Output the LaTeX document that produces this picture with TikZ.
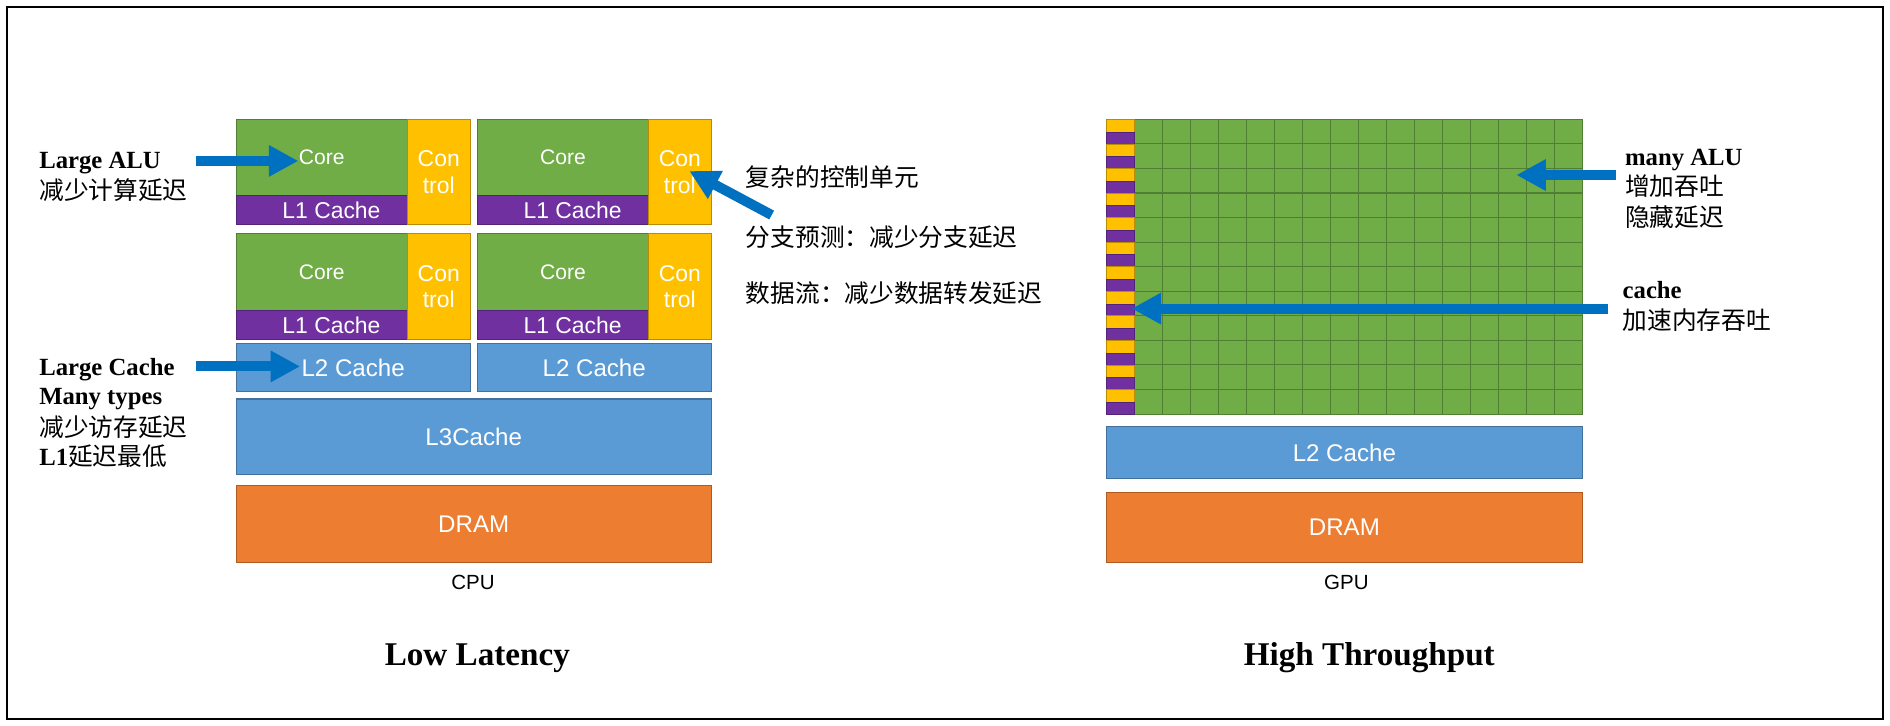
\documentclass[tikz,border=0pt]{standalone}
\usepackage{fontspec}
\setmainfont{Liberation Serif}
\newfontfamily\cjk{Noto Sans CJK SC}
\newfontfamily\arialf{Liberation Sans}
\usetikzlibrary{arrows.meta}
\definecolor{cgreen}{HTML}{70AD47}
\definecolor{cgreenb}{HTML}{507E32}
\definecolor{cyellow}{HTML}{FFC000}
\definecolor{cyellowb}{HTML}{BC8C00}
\definecolor{cpurple}{HTML}{7030A0}
\definecolor{cpurpleb}{HTML}{51237A}
\definecolor{cblue}{HTML}{5B9BD5}
\definecolor{cblueb}{HTML}{41719C}
\definecolor{corange}{HTML}{ED7D31}
\definecolor{corangeb}{HTML}{AE5A21}
\definecolor{carrow}{HTML}{0070C0}
\begin{document}
\begin{tikzpicture}[x=1pt,y=-1pt,
  box/.style={line width=0.9pt, inner sep=0pt, outer sep=0pt, text=white},
  corebox/.style={box, fill=cgreen, draw=cgreenb, minimum width=142pt, minimum height=63.5pt, font=\arialf\fontsize{17.5}{20}\selectfont},
  lonebox/.style={box, fill=cpurple, draw=cpurpleb, minimum width=142pt, minimum height=24pt, font=\arialf\fontsize{19}{22}\selectfont},
  ctrlbox/.style={box, fill=cyellow, draw=cyellowb, minimum width=52pt, minimum height=87.5pt, align=center, font=\arialf\fontsize{19}{22}\selectfont},
  cachebox/.style={box, fill=cblue, draw=cblueb, font=\arialf\fontsize{20}{24}\selectfont},
  drambox/.style={box, fill=corange, draw=corangeb, font=\arialf\fontsize{20}{24}\selectfont},
  note/.style={anchor=base west, inner sep=0pt, font=\fontsize{20.5}{25}\selectfont},
  cnote/.style={note, font=\cjk\fontsize{20.5}{25}\selectfont},
  arr/.style={draw=carrow, line width=8.3pt, -{Triangle[length=24.5pt,width=24.6pt]}},
  label/.style={inner sep=0pt, anchor=base, font=\arialf\fontsize{17}{20}\selectfont},
  title/.style={inner sep=0pt, anchor=base, font=\bfseries\fontsize{27.5}{30}\selectfont}
]
\useasboundingbox (0,0) rectangle (1568,602);
\draw[line width=1.7pt] (5.5,5.5) rectangle (1562,596.5);

% ---------------- CPU ----------------
\foreach \c in {0,1}{
  \foreach \r in {0,1}{
    \pgfmathsetmacro\L{196+200*\c}
    \pgfmathsetmacro\T{99+95*\r}
    \node[corebox] (core\c\r) at (\L+71,\T+31.75) {Core};
    \node[lonebox] (lone\c\r) at (\L+71,\T+75.5) {\hspace*{16pt}L1 Cache};
    \node[ctrlbox] (ctrl\c\r) at (\L+168,\T+43.75) {Con\\trol};
  }
}
\node[cachebox, minimum width=194pt, minimum height=40pt] (ltwoa) at (293,305) {L2 Cache};
\node[cachebox, minimum width=194pt, minimum height=40pt] (ltwob) at (493,305) {L2 Cache};
\node[cachebox, minimum width=394pt, minimum height=63pt] (lthree) at (393,362.5) {L3Cache};
\node[drambox, minimum width=394pt, minimum height=64pt] (dramc) at (393,435) {DRAM};
\node[label] (cpul) at (392.4,489) {CPU};
\node[title] (lowlat) at (396,552.4) {Low Latency};

% left notes
\node[note] (n1) at (32.4,139.8) {\textbf{Large ALU}};
\node[cnote] (n2) at (32.4,165.8) {减少计算延迟};
\node[note] (n3) at (32.4,311.5) {\textbf{Large Cache}};
\node[note] (n4) at (32.4,335.8) {\textbf{Many types}};
\node[cnote] (n5) at (32.4,361.8) {减少访存延迟};
\node[note] (n6) at (32.4,385.8) {\textbf{L1}{\cjk 延迟最低}};

% right notes
\node[cnote] (m1) at (618.6,154.4) {复杂的控制单元};
\node[cnote] (m2) at (618.6,204.1) {分支预测：减少分支延迟};
\node[cnote] (m3) at (618.6,251.2) {数据流：减少数据转发延迟};

\coordinate (a1s) at (163,133.5);
\coordinate (a1e) at (247.5,133.5);
\coordinate (a2s) at (163,304);
\coordinate (a2e) at (249,304);
\coordinate (a3s) at (640.2,178.4);
\coordinate (a3e) at (571.9,141.9);
\draw[arr] (a1s) -- (a1e);
\draw[arr] (a2s) -- (a2e);
\draw[arr] (a3s) -- (a3e);

% ---------------- GPU ----------------
\node[box, fill=cgreen, draw=cgreenb, minimum width=372pt, minimum height=244.5pt] (alu) at (1127,221.25) {};
\foreach \k in {1,...,15}{
  \draw[cgreenb, line width=0.9pt] (941+23.25*\k,99) -- (941+23.25*\k,343.5);
}
\foreach \k in {1,...,11}{
  \draw[cgreenb, line width=0.9pt] (941,99+20.375*\k) -- (1313,99+20.375*\k);
}
\foreach \k in {0,...,11}{
  \filldraw[fill=cyellow, draw=cyellowb, line width=0.6pt] (917.6,99+20.375*\k) rectangle (941,99+20.375*\k+10.5);
  \filldraw[fill=cpurple, draw=cpurpleb, line width=0.6pt] (917.6,99+20.375*\k+10.5) rectangle (941,99+20.375*\k+20.375);
}
\node[cachebox, minimum width=395.4pt, minimum height=43pt] (ltwog) at (1115.3,375.5) {L2 Cache};
\node[drambox, minimum width=395.4pt, minimum height=58.4pt] (dramg) at (1115.3,437.6) {DRAM};
\node[label] (gpul) at (1117,489.3) {GPU};
\node[title] (highthr) at (1136,552.4) {High Throughput};

\node[note] (g1) at (1348,136.9) {\textbf{many ALU}};
\node[cnote] (g2) at (1348,162) {增加吞吐};
\node[cnote] (g3) at (1348,187.5) {隐藏延迟};
\node[note] (g4) at (1346,247.5) {\textbf{cache}};
\node[cnote] (g5) at (1346,273) {加速内存吞吐};

\coordinate (a4s) at (1341,145.2);
\coordinate (a4e) at (1258,145.2);
\coordinate (a5s) at (1334,256);
\coordinate (a5e) at (938.8,256);
\draw[arr] (a4s) -- (a4e);
\draw[arr] (a5s) -- (a5e);
\end{tikzpicture}
\end{document}
